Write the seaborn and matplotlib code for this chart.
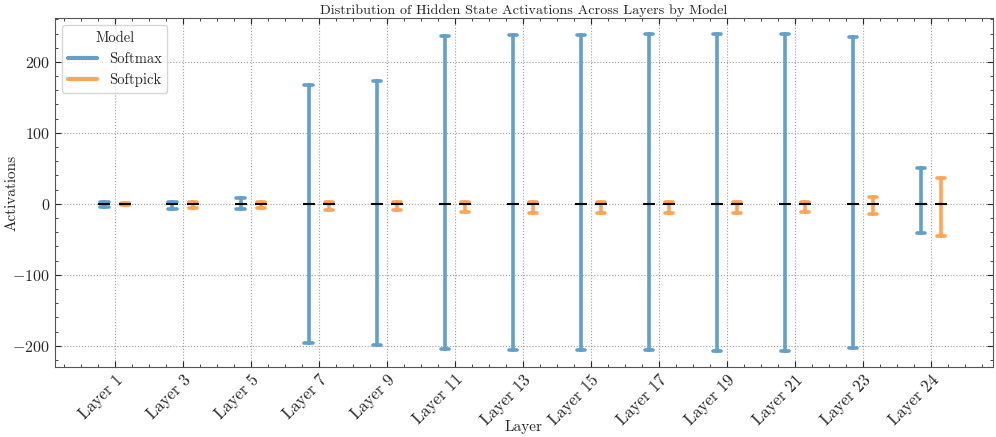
import pandas as pd
import matplotlib
matplotlib.use('Agg')
import matplotlib.pyplot as plt
from matplotlib.lines import Line2D
from matplotlib.ticker import AutoMinorLocator, MultipleLocator
import seaborn as sns

# data (min / median / max per layer)
layers = ['Layer 1', 'Layer 3', 'Layer 5', 'Layer 7', 'Layer 9', 'Layer 11', 'Layer 13',
          'Layer 15', 'Layer 17', 'Layer 19', 'Layer 21', 'Layer 23', 'Layer 24']
models = ['Softmax', 'Softpick']

softmax_min = [-4, -7.5, -7.5, -196, -198.5, -204, -205.5, -206, -206, -207, -207, -203, -41]
softmax_med = [0, 0, 0, 0, 0, 0, 0, 0, 0, 0, 0, 0, 0]
softmax_max = [2, 3, 8, 168, 173, 237, 237.5, 238, 239, 239, 239, 235, 50]

softpick_min = [-2, -6.5, -6.5, -8.5, -8.5, -11, -13, -13, -13, -13, -12, -14.5, -45]
softpick_med = [0, 0, 0, 0, 0, 0, 0, 0, 0, 0, 0, 0, 0]
softpick_max = [1, 2, 2, 2.8, 3, 3, 3, 3, 3, 3, 3, 9, 36.5]

colors = ['#62a0cb', '#ffa556']

rows = []
for name, lo, med, hi in [('Softmax', softmax_min, softmax_med, softmax_max),
                          ('Softpick', softpick_min, softpick_med, softpick_max)]:
    for layer, a, b, c in zip(layers, lo, med, hi):
        for v in (a, b, c):
            rows.append({'Layer': layer, 'Model': name, 'Activations': v})
df = pd.DataFrame(rows)

sns.set_style('ticks')
plt.rcParams['font.family'] = 'serif'
plt.rcParams['font.serif'] = ['cmr10']
plt.rcParams['mathtext.fontset'] = 'cm'
plt.rcParams['axes.formatter.use_mathtext'] = True
plt.rcParams['axes.unicode_minus'] = True

fig, ax = plt.subplots(figsize=(9.96, 4.37), dpi=100)
fig.subplots_adjust(left=0.055, right=0.997, top=0.959, bottom=0.16)

# whiskers from min to max with caps
sns.pointplot(data=df, x='Layer', y='Activations', hue='Model', order=layers, hue_order=models,
              estimator='median', errorbar=lambda v: (v.min(), v.max()),
              dodge=0.3, linestyle='none', markersize=0, capsize=0.12,
              palette=colors, err_kws={'linewidth': 2.6}, legend=False, ax=ax)

# median markers
sns.pointplot(data=df, x='Layer', y='Activations', hue='Model', order=layers, hue_order=models,
              estimator='median', errorbar=None, dodge=0.3, linestyle='none',
              marker='_', markersize=9, markeredgewidth=1.5,
              palette=['black', 'black'], legend=False, ax=ax)

ax.set_xlim(-0.88, 12.91)
ax.set_ylim(-230, 262)
ax.yaxis.set_major_locator(MultipleLocator(100))
ax.yaxis.set_minor_locator(AutoMinorLocator(5))
ax.xaxis.set_minor_locator(AutoMinorLocator(4))
ax.tick_params(which='both', direction='in', top=True, right=True)
ax.tick_params(axis='y', labelsize=11.5)
ax.tick_params(axis='x', labelsize=12)
ax.tick_params(which='major', length=4)
ax.tick_params(which='minor', length=2)
plt.setp(ax.get_xticklabels(), rotation=45, ha='right', rotation_mode='anchor')
ax.grid(True, which='major', linestyle=':', color='#a0a0a0', linewidth=0.8)
for s in ax.spines.values():
    s.set_color('#555555')

ax.set_title('Distribution of Hidden State Activations Across Layers by Model', fontsize=10.2, pad=3)
ax.set_xlabel('Layer', fontsize=11)
ax.set_ylabel('Activations', fontsize=11)
ax.xaxis.set_label_coords(0.5, -0.172)
ax.yaxis.set_label_coords(-0.046, 0.5)
ax.xaxis.label.set_va('center')
ax.yaxis.label.set_va('center')

handles = [Line2D([0], [0], color=c, linewidth=3) for c in colors]
ax.legend(handles, models, title='Model', loc='upper left', fontsize=10.5, title_fontsize=10.5,
          frameon=True, fancybox=True, edgecolor='#cccccc', handlelength=2.0)

fig.savefig('out.png', dpi=100)
